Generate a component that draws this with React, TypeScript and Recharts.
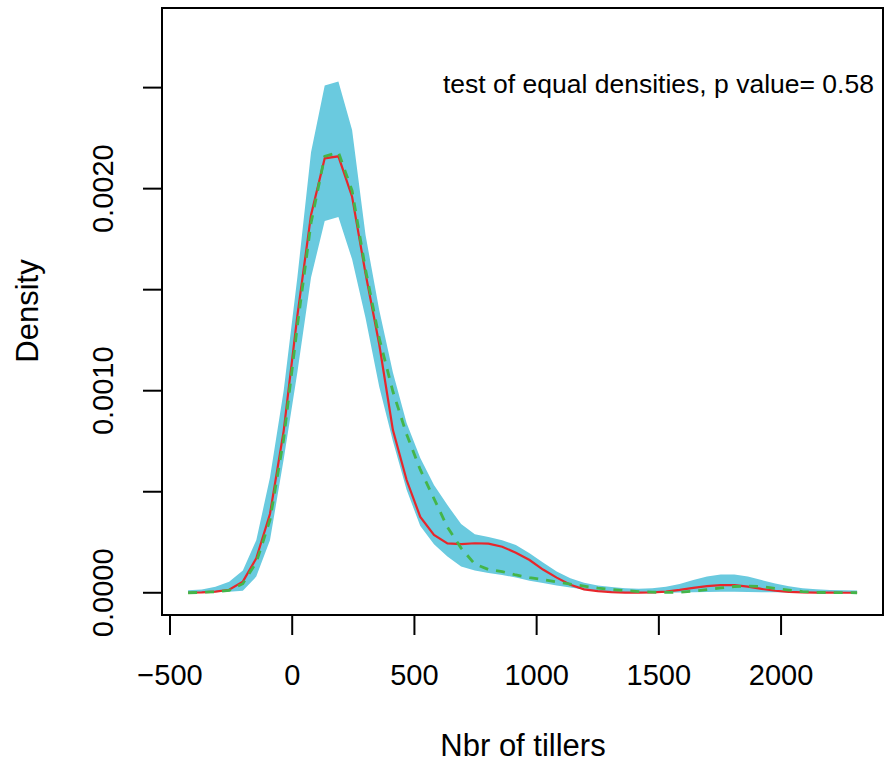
import React from "react";
import {
  ComposedChart,
  Area,
  Line,
  XAxis,
  YAxis,
  ReferenceArea,
} from "recharts";

// grid of the density estimate (number of tillers)
const tillers = [
  -426, -370, -314, -258, -202, -147, -91, -35, 21, 77, 133, 189, 245, 300,
  356, 412, 468, 524, 580, 635, 691, 747, 803, 859, 915, 971, 1026, 1082, 1138,
  1194, 1250, 1306, 1362, 1418, 1473, 1529, 1585, 1641, 1697, 1753, 1809, 1864,
  1920, 1976, 2032, 2088, 2144, 2200, 2256, 2311,
];

// lower edge of the reference band
const bandLow = [
  0, 0, 0.000002, 0.000005, 0.00001, 0.00008, 0.00026, 0.00066, 0.00109,
  0.00156, 0.00184, 0.00186, 0.00165, 0.00136, 0.00102, 0.00075, 0.00051,
  0.00033, 0.00024, 0.00018, 0.00013, 0.00011, 0.0000975, 0.000088, 0.000075,
  0.00006, 0.000048, 0.000036, 0.000026, 0.000016, 0.000006, 0.000003,
  0.000001, 0, 0, 0, 0.000001, 0.000002, 0.000004, 0.000005, 0.000005,
  0.000004, 0.000003, 0.000002, 0.000001, 0, 0, 0, 0, 0,
];

// upper edge of the reference band
const bandHigh = [
  0.000012, 0.000016, 0.00003, 0.000055, 0.00011, 0.00026, 0.00057, 0.001,
  0.00156, 0.00218, 0.00251, 0.00253, 0.00229, 0.00177, 0.0014, 0.00109,
  0.00084, 0.000667, 0.000533, 0.000434, 0.00034, 0.00029, 0.000276, 0.00026,
  0.000236, 0.000195, 0.00015, 0.000105, 0.000072, 0.00005, 0.000036,
  0.000028, 0.000023, 0.00002, 0.000022, 0.00003, 0.000043, 0.000063, 0.00008,
  0.00009, 0.00009, 0.00008, 0.000063, 0.000046, 0.000032, 0.000023, 0.000017,
  0.000014, 0.000012, 0.000011,
];

// group 1 (solid red)
const densityA = [
  0, 0.000002, 0.000006, 0.000015, 0.000055, 0.00017, 0.00039, 0.0008,
  0.00137, 0.00187, 0.00215, 0.00216, 0.00196, 0.00158, 0.00123, 0.000805,
  0.000558, 0.000375, 0.000286, 0.000244, 0.000241, 0.000245, 0.000243,
  0.000228, 0.000198, 0.000162, 0.000115, 0.000075, 0.00004, 0.000017,
  0.000008, 0.000003, 0.000001, 0.000001, 0.000002, 0.000006, 0.000014,
  0.000024, 0.000033, 0.000038, 0.000038, 0.00003, 0.000019, 0.00001,
  0.000004, 0.000002, 0.000001, 0.000001, 0, 0,
];

// group 2 (dashed green)
const densityB = [
  0, 0.000002, 0.000005, 0.000012, 0.000045, 0.00015, 0.00036, 0.00076,
  0.00132, 0.00183, 0.00216, 0.00218, 0.00199, 0.0016, 0.00126, 0.000996,
  0.000784, 0.000609, 0.000466, 0.000325, 0.000221, 0.000142, 0.000115,
  0.000105, 0.000088, 0.000075, 0.000065, 0.000054, 0.000043, 0.000033,
  0.000023, 0.000016, 0.000011, 0.000006, 0.000003, 0.000002, 0.000003,
  0.000008, 0.000016, 0.000024, 0.000031, 0.000033, 0.000031, 0.000021,
  0.000013, 0.000006, 0.000002, 0.000001, 0.000001, 0,
];

const xTicks = [-500, 0, 500, 1000, 1500, 2000];
const yTicks = [0, 0.0005, 0.001, 0.0015, 0.002, 0.0025];
const yLabelled = [0, 0.001, 0.002];

const X_MIN = -532.7;
const X_MAX = 2417;
const Y_MIN = -0.00011;
const Y_MAX = 0.002894;

const FONT = "'Liberation Sans', Arial, Helvetica, sans-serif";

const data = tillers.map((x, i) => ({
  x,
  band: [bandLow[i], bandHigh[i]],
  a: densityA[i],
  b: densityB[i],
}));

const XTick = (props: any) => {
  const { x, payload } = props;
  const v = payload.value as number;
  const label = v < 0 ? "\u2212" + Math.abs(v) : String(v);
  return (
    <text x={x} y={685} textAnchor="middle" fontSize={29} fontFamily={FONT} fill="#000">
      {label}
    </text>
  );
};

const YTick = (props: any) => {
  const { y, payload } = props;
  const v = payload.value as number;
  if (!yLabelled.includes(v)) return <g />;
  return (
    <text
      x={113}
      y={y}
      transform={`rotate(-90 113 ${y})`}
      textAnchor="middle"
      fontSize={29}
      fontFamily={FONT}
      fill="#000"
    >
      {v.toFixed(4)}
    </text>
  );
};

export default function App() {
  return (
    <div style={{ position: "fixed", left: 0, top: 0, width: 884, height: 765, background: "#fff" }}>
      <ComposedChart
        width={884}
        height={765}
        data={data}
        margin={{ top: 8, right: 1, bottom: 0, left: 0 }}
      >
        <XAxis
          dataKey="x"
          type="number"
          domain={[X_MIN, X_MAX]}
          ticks={xTicks}
          allowDataOverflow
          height={150}
          tickSize={20}
          tickMargin={0}
          axisLine={false}
          tickLine={{ stroke: "#000", strokeWidth: 2 }}
          tick={<XTick />}
          interval={0}
        />
        <YAxis
          type="number"
          domain={[Y_MIN, Y_MAX]}
          ticks={yTicks}
          allowDataOverflow
          width={162}
          tickSize={19}
          tickMargin={0}
          axisLine={false}
          tickLine={{ stroke: "#000", strokeWidth: 2 }}
          tick={<YTick />}
          interval={0}
        />
        <Area
          type="linear"
          dataKey="band"
          stroke="none"
          fill="#6ACADF"
          fillOpacity={1}
          isAnimationActive={false}
        />
        <Line
          type="linear"
          dataKey="a"
          stroke="#E8262B"
          strokeWidth={2.2}
          dot={false}
          isAnimationActive={false}
        />
        <Line
          type="linear"
          dataKey="b"
          stroke="#44B549"
          strokeWidth={2.8}
          strokeDasharray="9 8"
          dot={false}
          isAnimationActive={false}
        />
        <ReferenceArea
          x1={X_MIN}
          x2={X_MAX}
          y1={Y_MIN}
          y2={Y_MAX}
          fill="none"
          fillOpacity={0}
          stroke="#000"
          strokeWidth={2}
          ifOverflow="visible"
        />
      </ComposedChart>
      <svg
        width={884}
        height={765}
        style={{ position: "absolute", left: 0, top: 0, pointerEvents: "none" }}
      >
        <text x={443} y={93} fontSize={26.5} fontFamily={FONT} fill="#000">
          test of equal densities, p value= 0.58
        </text>
        <text x={523} y={756} textAnchor="middle" fontSize={31} fontFamily={FONT} fill="#000">
          Nbr of tillers
        </text>
        <text
          x={38}
          y={311}
          transform="rotate(-90 38 311)"
          textAnchor="middle"
          fontSize={31}
          fontFamily={FONT}
          fill="#000"
        >
          Density
        </text>
      </svg>
    </div>
  );
}
